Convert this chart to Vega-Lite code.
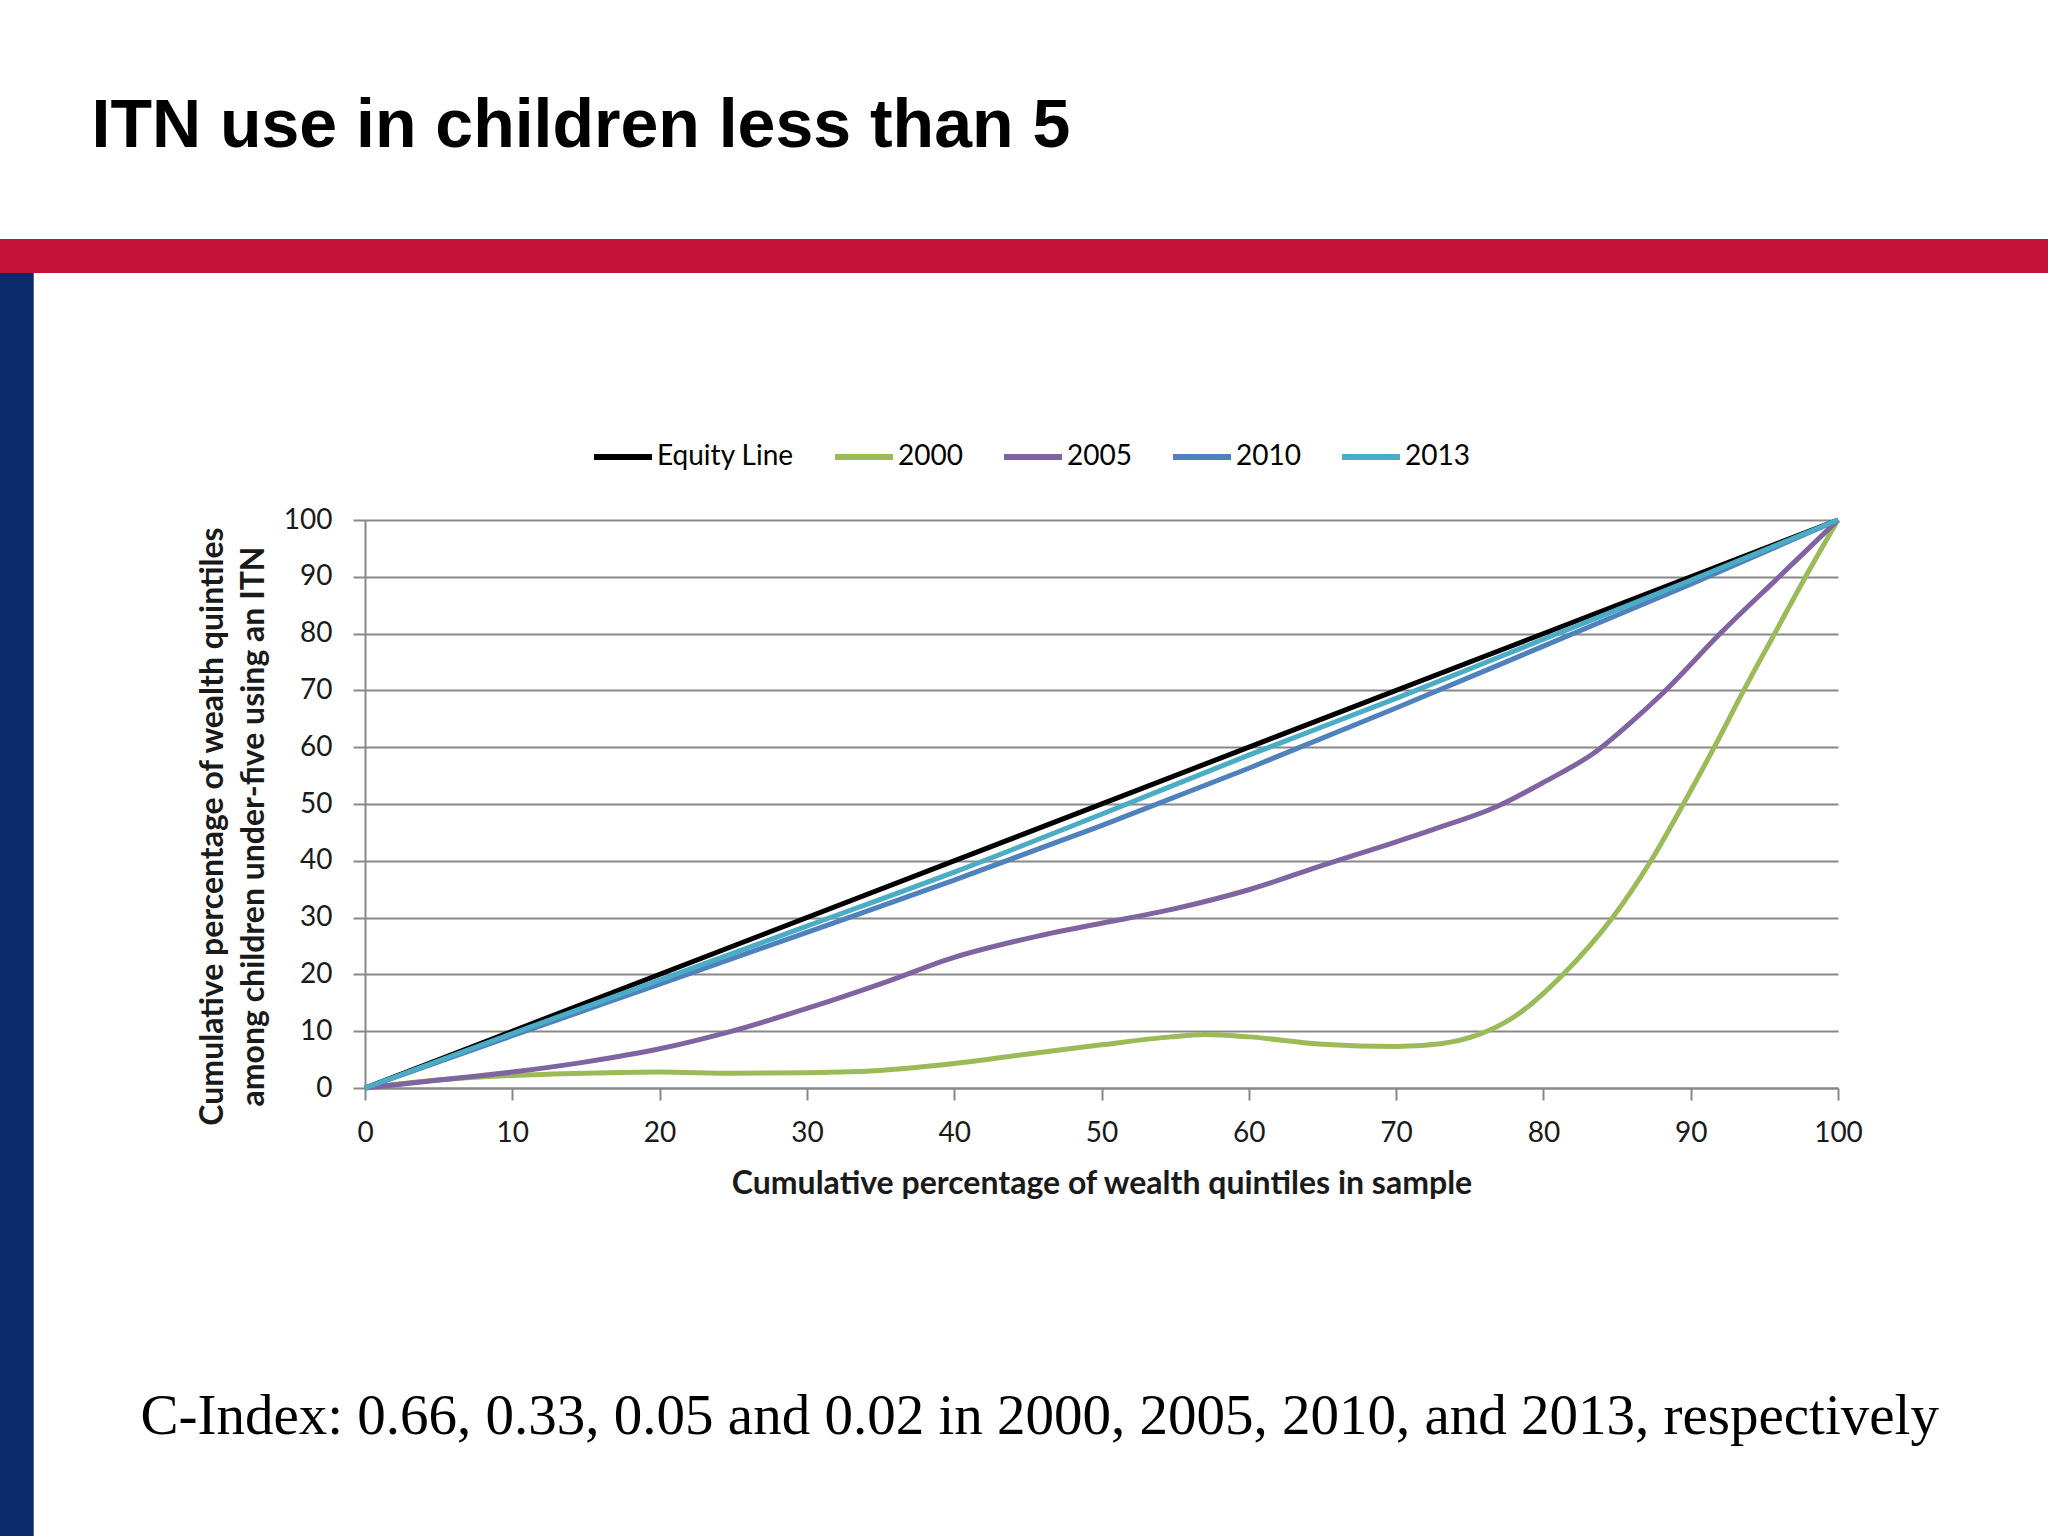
{
  "$schema": "https://vega.github.io/schema/vega-lite/v6.json",
  "width": 1473,
  "height": 568,
  "autosize": {"type": "none"},
  "padding": {"left": 365, "top": 520, "right": 210, "bottom": 448},
  "background": "#ffffff",
  "config": {"view": {"stroke": null}, "font": "Lato"},
  "resolve": {"axis": {"x": "independent", "y": "independent"}},
  "layer": [
    {
      "data": {"values": [{}]},
      "mark": {"type": "rect", "color": "#C41239"},
      "encoding": {
        "x": {"datum": -25, "type": "quantitative", "scale": {"domain": [0, 100], "nice": false, "zero": false},
          "axis": {"orient": "top", "domain": false, "ticks": false, "labels": false, "grid": false,
            "title": "ITN use in children less than 5", "titleFont": "Liberation Sans", "titleFontSize": 68, "titleFontWeight": "bold",
            "titleColor": "#000000", "titleX": -274, "titleY": -374, "titleAlign": "left", "titleBaseline": "alphabetic", "titleAngle": 0}},
        "x2": {"datum": 115},
        "y": {"datum": 149.47, "type": "quantitative", "scale": {"domain": [0, 100], "nice": false, "zero": false},
          "axis": {"orient": "right", "domain": false, "ticks": false, "labels": false, "grid": false,
            "title": "C-Index: 0.66, 0.33, 0.05 and 0.02 in 2000, 2005, 2010, and 2013, respectively",
            "titleFont": "Liberation Serif", "titleFontSize": 57, "titleFontWeight": "normal", "titleColor": "#000000",
            "titleX": -1698, "titleY": 913, "titleAlign": "left", "titleBaseline": "alphabetic", "titleAngle": 0}},
        "y2": {"datum": 143.49}
      }
    },
    {
      "data": {"values": [{}]},
      "mark": {"type": "rect", "color": "#0B2A69"},
      "encoding": {
        "x": {"datum": -25, "type": "quantitative", "scale": {"domain": [0, 100], "nice": false, "zero": false}, "axis": null},
        "x2": {"datum": -22.49},
        "y": {"datum": 143.49, "type": "quantitative", "scale": {"domain": [0, 100], "nice": false, "zero": false}, "axis": null},
        "y2": {"datum": -80}
      }
    },
    {
      "data": {"values": [
        {"series": "Equity Line", "x": 0, "y": 0},
        {"series": "Equity Line", "x": 100, "y": 100},
        {"series": "2000", "x": 0, "y": 0},
        {"series": "2000", "x": 5, "y": 1.4},
        {"series": "2000", "x": 10, "y": 2.2},
        {"series": "2000", "x": 15, "y": 2.6},
        {"series": "2000", "x": 20, "y": 2.8},
        {"series": "2000", "x": 25, "y": 2.6},
        {"series": "2000", "x": 30, "y": 2.7},
        {"series": "2000", "x": 35, "y": 3.1},
        {"series": "2000", "x": 40, "y": 4.3},
        {"series": "2000", "x": 45, "y": 6.0},
        {"series": "2000", "x": 50, "y": 7.6},
        {"series": "2000", "x": 54.7, "y": 9.0},
        {"series": "2000", "x": 57, "y": 9.4},
        {"series": "2000", "x": 60, "y": 9.0},
        {"series": "2000", "x": 65, "y": 7.7},
        {"series": "2000", "x": 70, "y": 7.3},
        {"series": "2000", "x": 73, "y": 7.8},
        {"series": "2000", "x": 75.5, "y": 9.3},
        {"series": "2000", "x": 78, "y": 12.5},
        {"series": "2000", "x": 81.3, "y": 19.9},
        {"series": "2000", "x": 84.7, "y": 30},
        {"series": "2000", "x": 87.3, "y": 40},
        {"series": "2000", "x": 89.5, "y": 50},
        {"series": "2000", "x": 91.6, "y": 60},
        {"series": "2000", "x": 93.6, "y": 70},
        {"series": "2000", "x": 95.7, "y": 80},
        {"series": "2000", "x": 97.8, "y": 90},
        {"series": "2000", "x": 100, "y": 100},
        {"series": "2005", "x": 0, "y": 0},
        {"series": "2005", "x": 5, "y": 1.4},
        {"series": "2005", "x": 10, "y": 2.8},
        {"series": "2005", "x": 15, "y": 4.6},
        {"series": "2005", "x": 20, "y": 6.9},
        {"series": "2005", "x": 24.6, "y": 9.8},
        {"series": "2005", "x": 30, "y": 14},
        {"series": "2005", "x": 35.3, "y": 18.6},
        {"series": "2005", "x": 40, "y": 23.0},
        {"series": "2005", "x": 45.6, "y": 26.7},
        {"series": "2005", "x": 50, "y": 29},
        {"series": "2005", "x": 54.7, "y": 31.4},
        {"series": "2005", "x": 60, "y": 34.9},
        {"series": "2005", "x": 65, "y": 39.2},
        {"series": "2005", "x": 69.6, "y": 43},
        {"series": "2005", "x": 72.5, "y": 45.5},
        {"series": "2005", "x": 76.8, "y": 49.5},
        {"series": "2005", "x": 80, "y": 53.8},
        {"series": "2005", "x": 83.6, "y": 59.3},
        {"series": "2005", "x": 86, "y": 64.5},
        {"series": "2005", "x": 88.1, "y": 69.5},
        {"series": "2005", "x": 92, "y": 80},
        {"series": "2005", "x": 96, "y": 90},
        {"series": "2005", "x": 100, "y": 100},
        {"series": "2010", "x": 0, "y": 0},
        {"series": "2010", "x": 10, "y": 9.2},
        {"series": "2010", "x": 20, "y": 18.3},
        {"series": "2010", "x": 30, "y": 27.4},
        {"series": "2010", "x": 40, "y": 36.6},
        {"series": "2010", "x": 50, "y": 46.2},
        {"series": "2010", "x": 60, "y": 56.3},
        {"series": "2010", "x": 70, "y": 66.9},
        {"series": "2010", "x": 80, "y": 77.8},
        {"series": "2010", "x": 90, "y": 88.7},
        {"series": "2010", "x": 100, "y": 100},
        {"series": "2013", "x": 0, "y": 0},
        {"series": "2013", "x": 10, "y": 9.6},
        {"series": "2013", "x": 20, "y": 19.0},
        {"series": "2013", "x": 30, "y": 28.5},
        {"series": "2013", "x": 40, "y": 38.0},
        {"series": "2013", "x": 50, "y": 48.2},
        {"series": "2013", "x": 60, "y": 58.6},
        {"series": "2013", "x": 70, "y": 68.6},
        {"series": "2013", "x": 80, "y": 79.0},
        {"series": "2013", "x": 90, "y": 89.4},
        {"series": "2013", "x": 100, "y": 100}
      ]},
      "mark": {"type": "line", "interpolate": "monotone", "strokeWidth": 5},
      "encoding": {
        "x": {"field": "x", "type": "quantitative", "scale": {"domain": [0, 100], "nice": false, "zero": false},
          "axis": {"orient": "bottom", "values": [0, 10, 20, 30, 40, 50, 60, 70, 80, 90, 100], "grid": false, "labelFlush": false,
            "domainColor": "#888888", "domainWidth": 2, "tickColor": "#888888", "tickWidth": 2, "tickSize": 12,
            "labelFont": "Lato", "labelFontSize": 28, "labelColor": "#1a1a1a", "labelPadding": 19,
            "title": "Cumulative percentage of wealth quintiles in sample", "titleFont": "Lato", "titleFontSize": 32,
            "titleFontWeight": "bold", "titleColor": "#1a1a1a", "titleY": 105, "titleBaseline": "alphabetic"}},
        "y": {"field": "y", "type": "quantitative", "scale": {"domain": [0, 100], "nice": false, "zero": false},
          "axis": {"orient": "left", "values": [0, 10, 20, 30, 40, 50, 60, 70, 80, 90, 100], "grid": true,
            "gridColor": "#888888", "gridWidth": 2, "domainColor": "#888888", "domainWidth": 2,
            "tickColor": "#888888", "tickWidth": 2, "tickSize": 12,
            "labelFont": "Lato", "labelFontSize": 28, "labelColor": "#1a1a1a", "labelPadding": 21,
            "title": ["Cumulative percentage of wealth quintiles", "among children under-five using an ITN"],
            "titleFont": "Lato", "titleFontSize": 32, "titleFontWeight": "bold", "titleColor": "#1a1a1a",
            "titleX": -143, "titleY": 306, "titleAngle": 270, "titleAlign": "center", "titleBaseline": "alphabetic", "titleLineHeight": 41}},
        "color": {"field": "series", "type": "nominal",
          "scale": {"domain": ["Equity Line", "2000", "2005", "2010", "2013"], "range": ["#000000", "#9BBB59", "#8064A2", "#4F81BD", "#4BACC6"]},
          "legend": {"orient": "none", "legendX": 226, "legendY": -95, "direction": "horizontal", "title": null,
            "symbolType": "stroke", "symbolSize": 3364, "symbolStrokeWidth": 6, "labelFont": "Lato", "labelFontSize": 28,
            "labelColor": "#000000", "labelOffset": 2, "columnPadding": 29, "padding": 0}},
        "strokeWidth": {"condition": {"test": "datum.series === 'Equity Line'", "value": 3.5}, "value": 5}
      }
    }
  ]
}
